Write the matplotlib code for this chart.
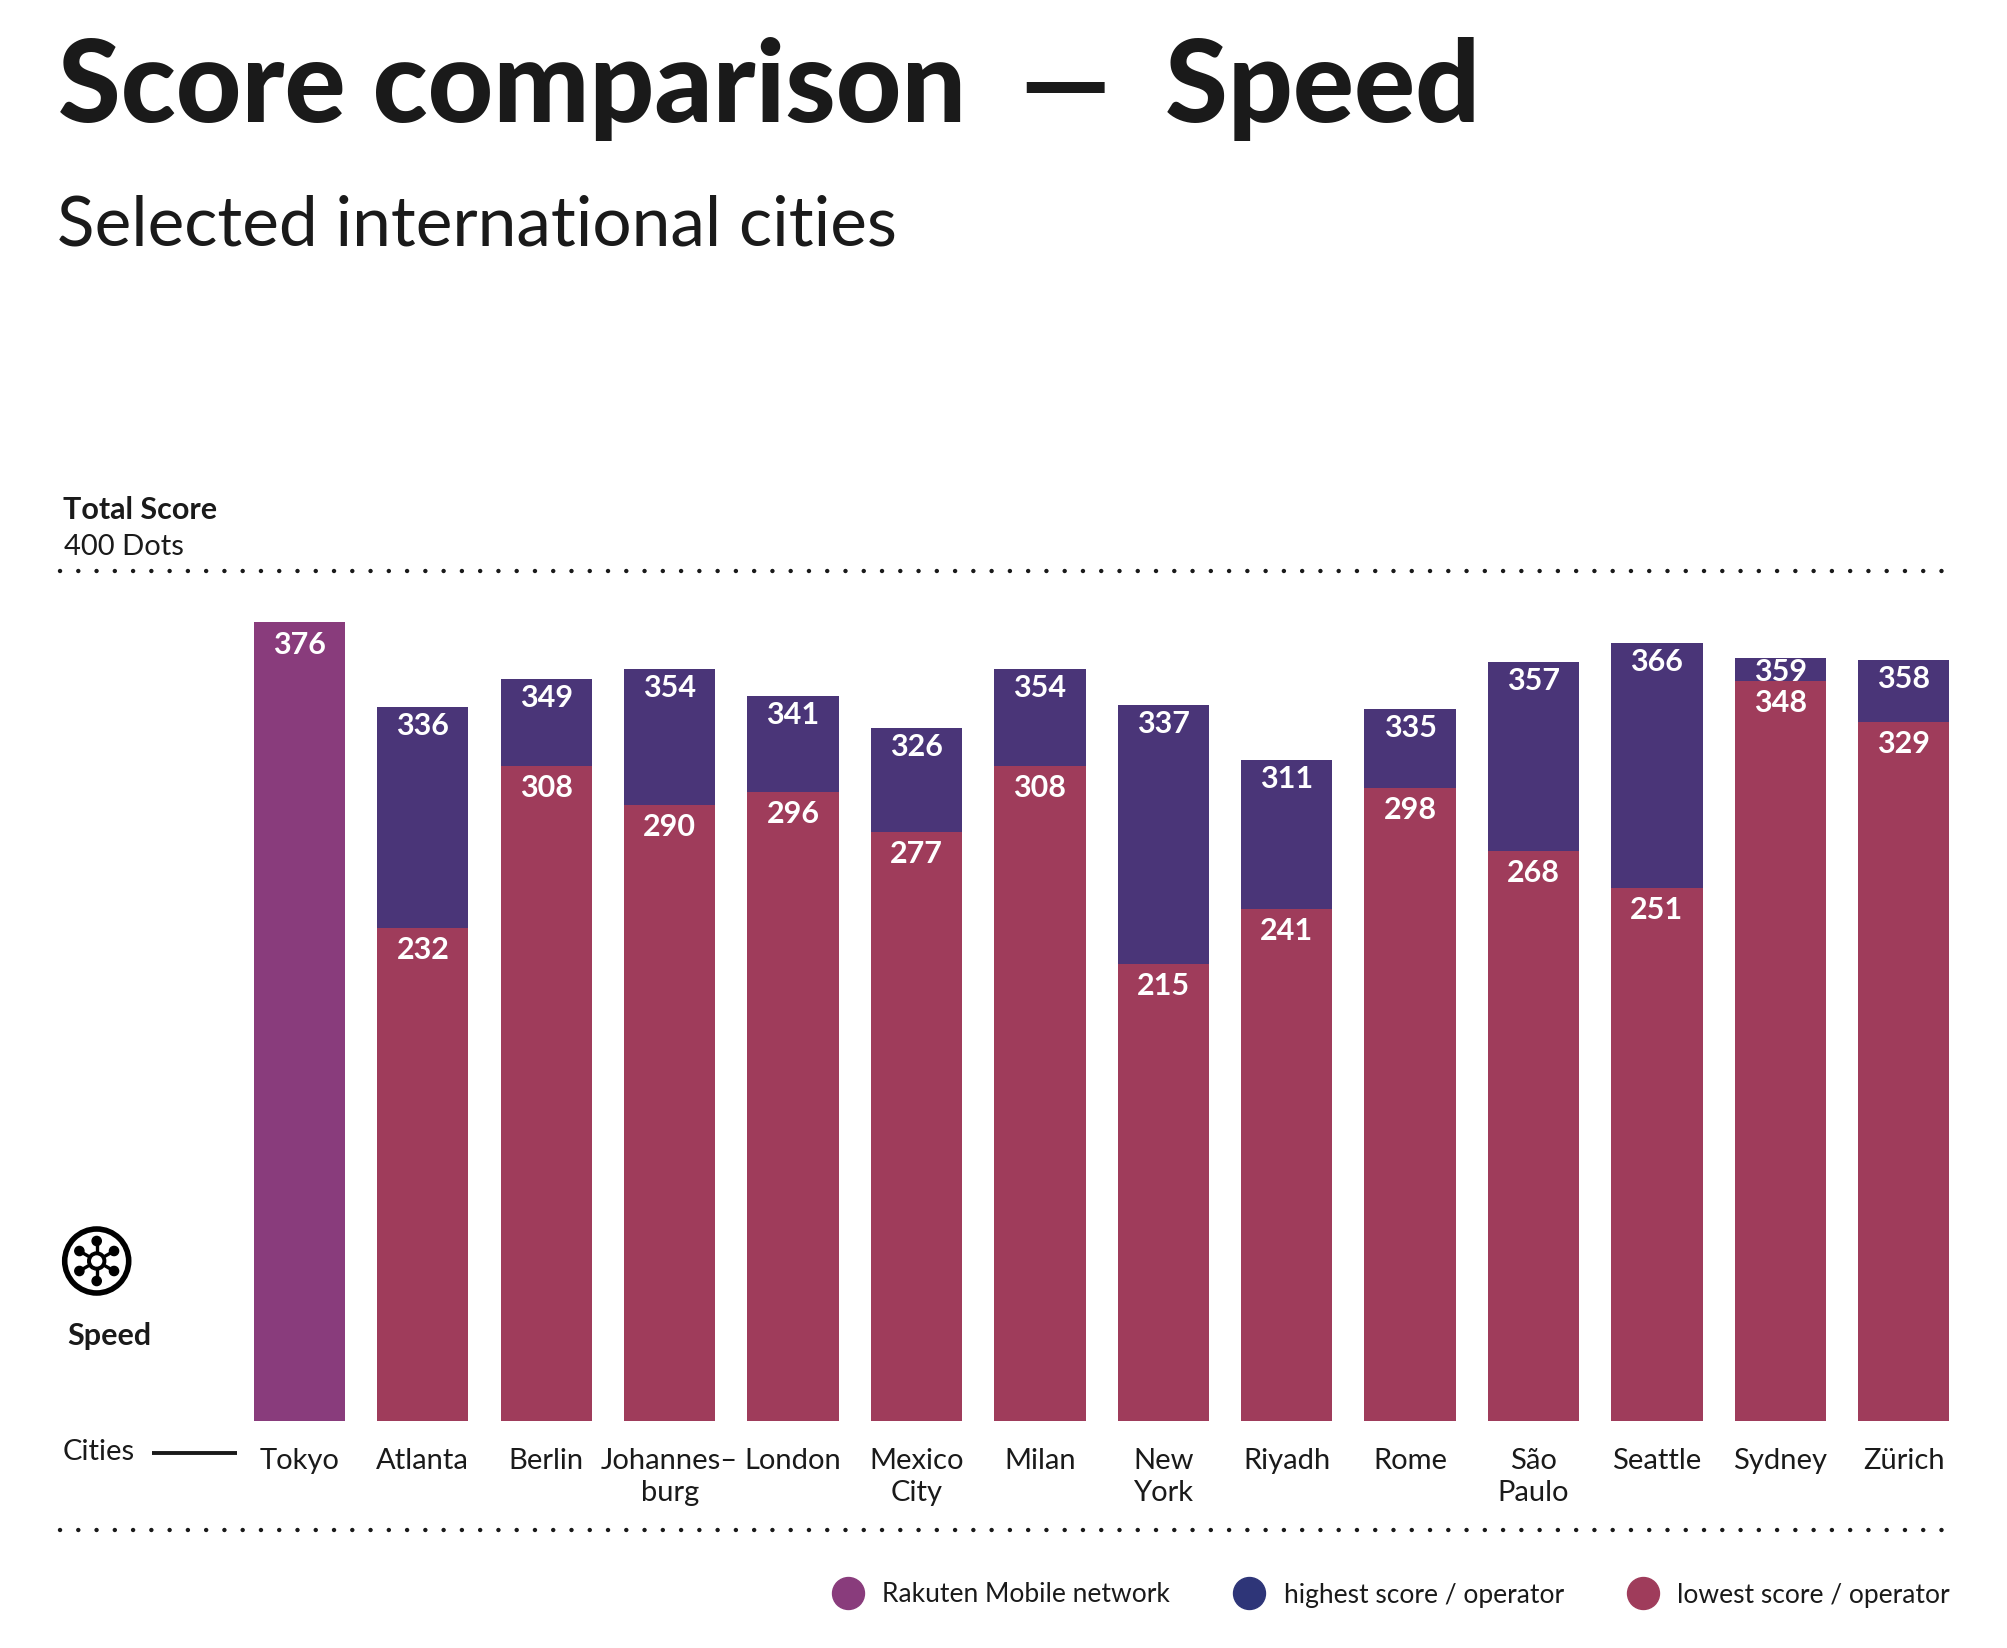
"""Score comparison bars, speed category."""

import matplotlib

matplotlib.use("Agg")
import matplotlib.pyplot as plt
from matplotlib.lines import Line2D
from matplotlib.patches import Circle
import numpy as np

cities = ["Tokyo", "Atlanta", "Berlin", "Johannes–\nburg", "London", "Mexico\nCity", "Milan",
          "New\nYork", "Riyadh", "Rome", "São\nPaulo", "Seattle", "Sydney", "Zürich"]
rakuten_score = [376, None, None, None, None, None, None, None, None, None, None, None, None, None]
highest_score = [None, 336, 349, 354, 341, 326, 354, 337, 311, 335, 357, 366, 359, 358]
lowest_score = [None, 232, 308, 290, 296, 277, 308, 215, 241, 298, 268, 251, 348, 329]
max_score = 400

PURPLE = "#893C7C"
INDIGO = "#4A3578"
RED = "#9F3C5B"
NAVY = "#2E3578"
INK = "#1A1A1A"

plt.rcParams["font.family"] = ["Lato", "DejaVu Sans"]

W, H = 2008, 1648
fig = plt.figure(figsize=(W / 100, H / 100), dpi=100, facecolor="white")


def px(x0, y0, x1, y1):
    # figure rect from pixel corners, y measured from the top
    return [x0 / W, 1 - y1 / H, (x1 - x0) / W, (y1 - y0) / H]


# overlay in pixel coordinates for the page furniture
page = fig.add_axes([0, 0, 1, 1])
page.set_xlim(0, W)
page.set_ylim(H, 0)
page.axis("off")

ax = fig.add_axes(px(60, 571, 1950, 1420.7))
ax.set_xlim(-1.94, 13.375)
ax.set_ylim(0, max_score)
ax.axis("off")

x = np.arange(len(cities))
bar_w = 0.74


def value_label(i, v, off_px):
    ax.annotate(str(v), (i, v), xytext=(0, -off_px * 0.72), textcoords="offset points",
                ha="center", va="center", color="white", fontsize=22, fontweight="bold")


for i in x:
    if rakuten_score[i] is not None:
        ax.bar(i, rakuten_score[i], bar_w, color=PURPLE)
        value_label(i, rakuten_score[i], 23)
        continue
    ax.bar(i, highest_score[i], bar_w, color=INDIGO)
    ax.bar(i, lowest_score[i], bar_w, color=RED)
    # Sydney's two values nearly touch, so the top one sits tighter
    value_label(i, highest_score[i], 14 if cities[i] == "Sydney" else 19)
    value_label(i, lowest_score[i], 22)

# dotted rules: the top one is the 400 dot maximum
ax.plot([-1.94, 13.375], [max_score, max_score], color=INK, lw=3.2, ls=(0, (0.01, 4.1)),
        dash_capstyle="round", clip_on=False)
page.plot([60, 1950], [1530, 1530], color=INK, lw=3.2, ls=(0, (0.01, 4.1)), dash_capstyle="round")

for i, name in zip(x, cities):
    ax.annotate(name, (i, 0), xytext=(0, -20), textcoords="offset points", ha="center", va="top",
                color=INK, fontsize=21, linespacing=1.25)

fig.text(58 / W, 1 - 122 / H, "Score comparison  —  Speed", fontsize=82, fontweight="black", color=INK,
         va="baseline")
fig.text(57 / W, 1 - 245 / H, "Selected international cities", fontsize=50, color=INK, va="baseline")

page.text(63, 519, "Total Score", fontsize=22, fontweight="bold", color=INK, va="baseline")
page.text(64, 555, "400 Dots", fontsize=21, color=INK, va="baseline")
page.text(67, 1345, "Speed", fontsize=22, fontweight="bold", color=INK, va="baseline")
page.text(63, 1460, "Cities", fontsize=21, color=INK, va="baseline")
page.plot([152, 237], [1453, 1453], color=INK, lw=2.8, solid_capstyle="butt")

# speed icon: ring, six spokes with round ends, open hub
cx, cy = 96.7, 1261
page.add_patch(Circle((cx, cy), 32, fill=False, ec="black", lw=4))
for a in np.deg2rad([90, 30, -30, -90, -150, 150]):
    ex, ey = cx + 20 * np.cos(a), cy - 20 * np.sin(a)
    page.plot([cx, ex], [cy, ey], color="black", lw=2.4)
    page.add_patch(Circle((ex, ey), 4.6, color="black"))
page.add_patch(Circle((cx, cy), 9, color="black"))
page.add_patch(Circle((cx, cy), 5, color="white", zorder=5))

handles = [Line2D([], [], ls="none", marker="o", ms=23, color=c) for c in (PURPLE, NAVY, RED)]
page.legend(handles, ["Rakuten Mobile network", "highest score / operator", "lowest score / operator"],
            ncol=3, frameon=False, loc="center right", bbox_to_anchor=(1950 / W, 1 - 1595 / H),
            bbox_transform=fig.transFigure, fontsize=19, labelcolor=INK, handletextpad=0.3,
            columnspacing=2.0, borderaxespad=0, borderpad=0)

fig.savefig("out.png", dpi=100)
plt.close(fig)
